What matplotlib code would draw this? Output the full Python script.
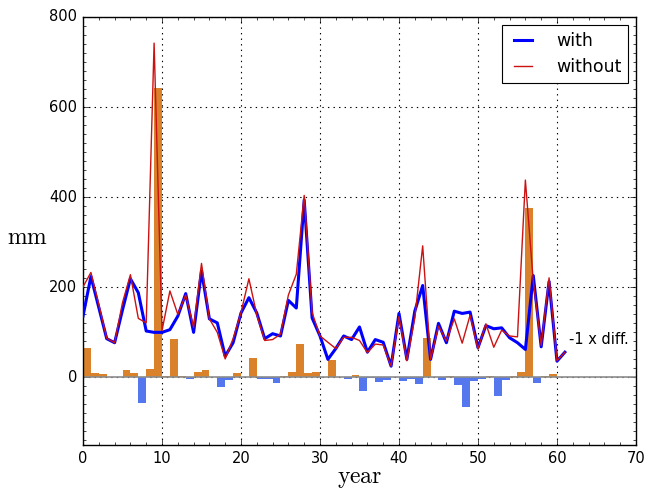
import numpy as np
import matplotlib
matplotlib.use("Agg")
import matplotlib.pyplot as plt
from matplotlib.ticker import MultipleLocator

plt.style.use("classic")
plt.rcParams["mathtext.fontset"] = "cm"

# values (mm per year)
years = np.arange(62)
with_mm = [136, 224, 155, 86, 77, 150, 219, 188, 103, 100,
           100, 106, 136, 186, 100, 236, 130, 121, 47, 77,
           143, 177, 143, 86, 97, 92, 171, 154, 394, 132,
           92, 40, 64, 92, 84, 112, 56, 84, 78, 25,
           142, 40, 147, 204, 40, 120, 77, 147, 142, 145,
           66, 115, 108, 110, 88, 77, 62, 226, 68, 213,
           36, 56]
without_mm = [201, 233, 162, 87, 77, 166, 228, 131, 121, 742,
              104, 192, 140, 183, 111, 253, 130, 100, 41, 86,
              144, 219, 139, 82, 84, 96, 183, 229, 404, 144,
              92, 78, 64, 89, 89, 82, 55, 74, 72, 25,
              135, 37, 132, 292, 40, 114, 81, 130, 76, 138,
              63, 119, 67, 105, 92, 90, 438, 213, 71, 221,
              37, 56]

with_mm = np.array(with_mm)
without_mm = np.array(without_mm)
diff = without_mm - with_mm   # -1 x (with - without)

fig = plt.figure(figsize=(6.45, 4.91), dpi=100)
ax = fig.add_axes([0.1287, 0.0937, 0.8573, 0.8717])

cols = np.where(diff >= 0, "#d9822b", "#5577ee")
ax.bar(years, diff, width=1.0, align="edge", color=cols, edgecolor="none", zorder=1)
ax.axhline(0, color="0.55", lw=1.2, zorder=1.5)

ax.plot(years, with_mm, color="#0000ff", lw=2.2, label="with", zorder=3)
ax.plot(years, without_mm, color="#cc1111", lw=1.0, label="without", zorder=4)

ax.text(61.5, 84, "-1 x diff.", fontsize=10.5, va="center", ha="left")

ax.set_xlim(0, 70)
ax.set_ylim(-150, 800)
ax.xaxis.set_major_locator(MultipleLocator(10))
ax.yaxis.set_major_locator(MultipleLocator(200))
ax.xaxis.set_minor_locator(MultipleLocator(2))
ax.yaxis.set_minor_locator(MultipleLocator(20))
ax.tick_params(labelsize=10.5)
ax.grid(True, color="black", linestyle=":", lw=0.8)
ax.set_axisbelow(True)

ax.set_xlabel(r"$\mathrm{year}$", fontsize=17, labelpad=0)
ax.set_ylabel(r"$\mathrm{mm}$", fontsize=17, rotation=0, ha="center", va="center")
ax.yaxis.set_label_coords(-0.1, 0.485)

leg = ax.legend(loc="upper right", fontsize=12.5, handlelength=1.6,
                handletextpad=1.1, borderaxespad=0.45)
leg.get_frame().set_linewidth(0.8)

fig.savefig("out.png", dpi=100)
